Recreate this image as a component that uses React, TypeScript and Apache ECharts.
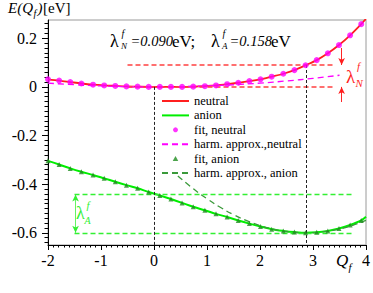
import React, { useEffect, useRef } from "react";
import * as echarts from "echarts";

// Q grid of fitted points
const qGrid = [-2.0, -1.79, -1.58, -1.37, -1.15, -0.94, -0.73, -0.52, -0.31, -0.1, 0.11, 0.32, 0.53, 0.74, 0.96, 1.17, 1.38, 1.59, 1.8, 2.01, 2.22, 2.44, 2.65, 2.86, 3.07, 3.28, 3.49, 3.7, 3.91];
const neutralFit = [0.031, 0.026, 0.02, 0.014, 0.009, 0.006, 0.004, 0.002, 0.001, 0.0, 0.0, 0.0, 0.0, 0.001, 0.003, 0.006, 0.011, 0.017, 0.024, 0.031, 0.042, 0.054, 0.069, 0.089, 0.11, 0.138, 0.172, 0.212, 0.258];
const anionFit = [-0.304, -0.319, -0.335, -0.349, -0.362, -0.376, -0.39, -0.404, -0.417, -0.432, -0.446, -0.461, -0.477, -0.493, -0.507, -0.522, -0.535, -0.549, -0.562, -0.574, -0.585, -0.592, -0.597, -0.6, -0.598, -0.592, -0.582, -0.568, -0.549];

// curves (DFT) : same grid + end at Q=4
const curveQ = [...qGrid, 4.0];
const neutralCurve = [...neutralFit, 0.28];
const anionCurve = [...anionFit, -0.534];

// harmonic approximations
const harmNeutralQ = [-2.0, -1.5, -1.0, -0.5, 0.0, 0.5, 1.0, 1.5, 2.0, 2.5, 3.0, 3.5];
const harmNeutralE = [0.0156, 0.0088, 0.0039, 0.001, 0.0, 0.001, 0.0039, 0.0088, 0.0156, 0.0244, 0.0351, 0.0478];
const harmAnionQ = [0.45, 0.75, 1.0, 1.25, 1.5, 1.75, 2.0, 2.25, 2.5, 2.87, 3.25, 3.5, 3.75, 4.0];
const harmAnionE = [-0.366, -0.42, -0.46, -0.495, -0.525, -0.55, -0.57, -0.585, -0.5945, -0.6, -0.594, -0.584, -0.569, -0.549];

// reorganization energies
const lambdaN = 0.09;
const lambdaA = 0.158;
const qAnionMin = 2.87;
const eAnionMin = -0.6;
const eAnionAtQ0 = eAnionMin + lambdaA;

// axis ticks
const yMajorTicks = [-0.6, -0.4, -0.2, 0, 0.2];
const yMinorTicks: number[] = [];
for (let i = -32; i <= 13; i++) yMinorTicks.push(Math.round(i * 2) / 100);

const legendNames = ["neutral", "anion", "fit, neutral", "harm. approx.,neutral", "fit, anion", "harm. approx., anion"];

const FONT = "Liberation Serif";
const RED = "#ff1f1f";
const RED_GUIDE = "#ff4040";
const GREEN = "#00ee00";
const GREEN_GUIDE = "#33f033";
const MAGENTA = "#ff00ff";
const DARK_GREEN = "#1e8c1e";
const HARM_GREEN = "#3a9a3a";

const zip = (a: number[], b: number[]) => a.map((v, i) => [v, b[i]]);

function txt(x: number, y: number, text: string, size: number, fill = "#000", italic = false) {
  return {
    type: "text",
    x,
    y,
    silent: true,
    style: {
      text,
      fill,
      fontSize: size,
      fontFamily: FONT,
      fontStyle: italic ? "italic" : "normal",
      verticalAlign: "middle",
      align: "left",
    },
  };
}

export default function App() {
  const ref = useRef<HTMLDivElement>(null);
  useEffect(() => {
    document.body.style.margin = "0";
    if (!ref.current) return;
    const chart = echarts.init(ref.current, undefined, { renderer: "svg" });

    const seg = (x1: number, y1: number, x2: number, y2: number, color: string, dash: number[], width = 1.2, s1 = "none", s2 = "none") => [
      { coord: [x1, y1], symbol: s1, symbolSize: [5, 7], lineStyle: { color, type: dash, width } },
      { coord: [x2, y2], symbol: s2, symbolSize: [5, 7] },
    ];

    const lineLegend = (name: string) => ({ name, itemStyle: { opacity: 0 } });

    const option: any = {
      animation: false,
      textStyle: { fontFamily: FONT },
      grid: { left: 48, right: 4, top: 20, bottom: 48, show: true, borderColor: "#9a9a9a", borderWidth: 1 },
      xAxis: {
        type: "value",
        min: -2,
        max: 4,
        interval: 1,
        axisLine: { show: true, onZero: false, lineStyle: { color: "#000", width: 1 } },
        axisTick: { show: true, length: 5, lineStyle: { color: "#000" } },
        minorTick: { show: true, splitNumber: 10, length: 2.5, lineStyle: { color: "#000" } },
        splitLine: { show: false },
        minorSplitLine: { show: false },
        axisLabel: { color: "#000", fontSize: 16, margin: 7, fontFamily: FONT },
      },
      yAxis: [
        {
          type: "value",
          min: -0.65,
          max: 0.275,
          axisLine: { show: true, onZero: false, lineStyle: { color: "#000", width: 1 } },
          axisTick: { show: true, customValues: yMajorTicks, length: 6, lineStyle: { color: "#000" } },
          axisLabel: { customValues: yMajorTicks, color: "#000", fontSize: 16, margin: 11, fontFamily: FONT },
          splitLine: { show: false },
        },
        {
          type: "value",
          min: -0.65,
          max: 0.275,
          position: "left",
          axisLine: { show: false, onZero: false },
          axisTick: { show: true, customValues: yMinorTicks, length: 3.5, lineStyle: { color: "#000" } },
          axisLabel: { show: false },
          splitLine: { show: false },
        },
      ],
      legend: {
        orient: "vertical",
        left: 161,
        top: 94.5,
        padding: 0,
        itemWidth: 27,
        itemHeight: 5,
        itemGap: 1.4,
        selectedMode: false,
        symbolKeepAspect: true,
        textStyle: { fontSize: 12.5, lineHeight: 12, color: "#000", fontFamily: FONT },
        data: [
          lineLegend(legendNames[0]),
          lineLegend(legendNames[1]),
          { name: legendNames[2] },
          lineLegend(legendNames[3]),
          { name: legendNames[4], icon: "path://M5,0L10,9L0,9Z" },
          lineLegend(legendNames[5]),
        ],
      },
      series: [
        {
          name: "guides",
          type: "line",
          data: [],
          symbol: "none",
          markLine: {
            silent: true,
            animation: false,
            symbol: ["none", "none"],
            label: { show: false },
            emphasis: { disabled: true },
            data: [
              seg(-0.5, lambdaN, 3.4, lambdaN, RED_GUIDE, [5, 3], 1.5),
              seg(-0.5, 0, 3.4, 0, RED_GUIDE, [5, 3], 1.5),
              seg(3.54, 0.16, 3.54, lambdaN, RED, [1, 0], 1, "none", "arrow"),
              seg(3.54, -0.062, 3.54, 0, RED, [1, 0], 1, "none", "arrow"),
              seg(-1.5, eAnionAtQ0, 3.77, eAnionAtQ0, GREEN_GUIDE, [5, 3], 1.3),
              seg(-1.5, eAnionMin, 3.77, eAnionMin, GREEN_GUIDE, [5, 3], 1.3),
              seg(-1.48, eAnionAtQ0, -1.48, eAnionMin, GREEN_GUIDE, [1, 0], 1, "arrow", "arrow"),
              seg(0, 0, 0, -0.65, "#222", [3, 2], 1),
              seg(qAnionMin, lambdaN, qAnionMin, -0.65, "#222", [3, 2], 1),
            ],
          },
        },
        {
          name: "neutral",
          type: "line",
          data: zip(curveQ, neutralCurve),
          symbol: "none",
          smooth: 0.3,
          lineStyle: { color: RED, width: 1.8 },
          itemStyle: { color: RED },
          z: 3,
        },
        {
          name: "anion",
          type: "line",
          data: zip(curveQ, anionCurve),
          symbol: "none",
          smooth: 0.3,
          lineStyle: { color: GREEN, width: 2 },
          itemStyle: { color: GREEN },
          z: 3,
        },
        {
          name: "fit, neutral",
          type: "scatter",
          data: zip(qGrid, neutralFit),
          symbol: "circle",
          symbolSize: 6,
          itemStyle: { color: MAGENTA },
          z: 5,
        },
        {
          name: "harm. approx.,neutral",
          type: "line",
          data: zip(harmNeutralQ, harmNeutralE),
          symbol: "none",
          smooth: true,
          lineStyle: { color: MAGENTA, width: 1.3, type: [6, 4] },
          itemStyle: { color: MAGENTA },
          z: 4,
        },
        {
          name: "fit, anion",
          type: "scatter",
          data: zip(qGrid, anionFit),
          symbol: "triangle",
          symbolSize: 5,
          itemStyle: { color: DARK_GREEN },
          z: 5,
        },
        {
          name: "harm. approx., anion",
          type: "line",
          data: zip(harmAnionQ, harmAnionE),
          symbol: "none",
          smooth: true,
          lineStyle: { color: HARM_GREEN, width: 1.3, type: [6, 4] },
          itemStyle: { color: HARM_GREEN },
          z: 4,
        },
      ],
      graphic: [
        // y axis title
        txt(8, 8, "E(Q", 15, "#000", true),
        txt(33.5, 13, "f", 10, "#000", true),
        txt(37.5, 8, ")", 15, "#000", true),
        txt(43, 8, "[eV]", 15),
        // x axis title
        txt(336, 260, "Q", 17, "#000", true),
        txt(348.5, 267, "f", 11, "#000", true),
        // header
        txt(110, 41, "λ", 18),
        txt(121.5, 33, "f", 10, "#000", true),
        txt(121, 46, "N", 9, "#000", true),
        txt(130.5, 41, "=0.090", 14.5, "#000", true),
        txt(172, 41, "eV;", 17),
        txt(211, 41, "λ", 18),
        txt(222.5, 33, "f", 10, "#000", true),
        txt(222, 46, "A", 9, "#000", true),
        txt(229.5, 41, "=0.158", 14.5, "#000", true),
        txt(271, 41, "eV", 17),
        // lambda_N label
        txt(346, 76, "λ", 19, RED),
        txt(357, 66, "f", 11, RED, true),
        txt(355.5, 83, "N", 11, RED, true),
        // lambda_A label
        txt(76, 213, "λ", 18, GREEN_GUIDE),
        txt(86.5, 205, "f", 11, GREEN_GUIDE, true),
        txt(84.5, 220, "A", 10, GREEN_GUIDE, true),
      ],
    };
    chart.setOption(option);
    return () => chart.dispose();
  }, []);
  return <div ref={ref} style={{ width: 373, height: 293 }} />;
}
